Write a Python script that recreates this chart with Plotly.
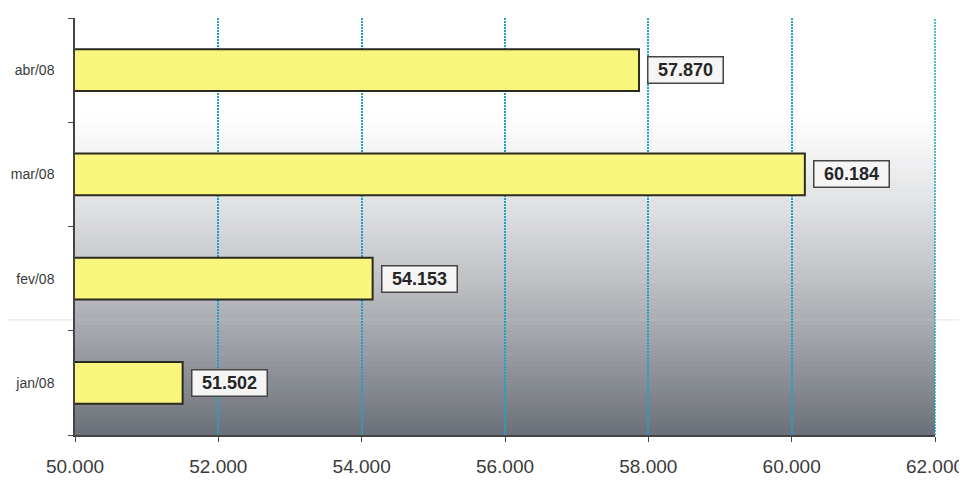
import plotly.graph_objects as go

categories = ["jan/08", "fev/08", "mar/08", "abr/08"]
values = [51502, 54153, 60184, 57870]
x_ticks = [50000, 52000, 54000, 56000, 58000, 60000, 62000]
x_tick_labels = ["50.000", "52.000", "54.000", "56.000", "58.000", "60.000", "62.000"]


def fmt(v):
    return f"{v:,}".replace(",", ".")


fig = go.Figure()
fig.add_trace(go.Bar(
    x=values, y=categories, orientation="h",
    width=0.4,
    marker=dict(color="#f8f67c", line=dict(color="#2b2b22", width=2)),
    hoverinfo="skip",
))

# gradient background (style only)
stops = [(0.0, (255, 255, 255)), (0.24, (255, 255, 255)), (0.44, (226, 227, 229)),
         (0.63, (191, 193, 197)), (0.80, (154, 157, 163)), (1.0, (108, 112, 120))]


def col_at(t):
    for (t0, c0), (t1, c1) in zip(stops[:-1], stops[1:]):
        if t0 <= t <= t1:
            f = 0 if t1 == t0 else (t - t0) / (t1 - t0)
            return "rgb(%d,%d,%d)" % tuple(round(a + (b - a) * f) for a, b in zip(c0, c1))
    return "rgb(%d,%d,%d)" % stops[-1][1]


shapes = []
n = 80
for i in range(n):
    t0 = i / n
    t1 = (i + 1) / n
    shapes.append(dict(type="rect", xref="x domain", yref="y domain",
                       x0=0, x1=1, y0=1 - t1, y1=1 - t0 + 0.002,
                       fillcolor=col_at((t0 + t1) / 2), line=dict(width=0),
                       layer="below"))

# gridline at the right edge of the plot area
shapes.append(dict(type="line", xref="x domain", yref="y domain", x0=1, x1=1, y0=0, y1=1,
                   line=dict(color="#1fa3c4", width=1.5, dash="2px,1px"), layer="below"))
# faint scan line across the picture
shapes.append(dict(type="line", xref="paper", yref="paper", x0=-0.09, x1=1.04,
                   y0=0.276, y1=0.276, line=dict(color="rgba(200,200,200,0.5)", width=1),
                   layer="below"))

annotations = []
for c, v in zip(categories, values):
    annotations.append(dict(
        x=v, y=c, xref="x", yref="y", text=fmt(v), showarrow=False,
        xanchor="left", xshift=8, width=70, height=21, align="center",
        font=dict(family="Arial, Liberation Sans", size=18, color="#262626", weight="bold"),
        bgcolor="#f5f5f5", bordercolor="#444444", borderwidth=1.5, borderpad=2,
    ))

fig.update_layout(
    width=959, height=472,
    margin=dict(l=67, r=32, t=10, b=45),
    paper_bgcolor="white", plot_bgcolor="rgba(0,0,0,0)",
    showlegend=False,
    shapes=shapes,
    annotations=annotations,
    font=dict(family="Arial, Liberation Sans", color="#333333"),
)
fig.update_xaxes(
    range=[50000, 62000], tickvals=x_ticks, ticktext=x_tick_labels,
    showgrid=True, gridcolor="#1fa3c4", griddash="2px,1px", gridwidth=1.5,
    showline=True, linecolor="#444444", linewidth=1.5,
    ticks="outside", ticklen=5, tickcolor="#444444",
    tickfont=dict(size=19, color="#3a3a3a"), ticklabelstandoff=8,
    zeroline=False, fixedrange=True, automargin=False,
)
fig.update_yaxes(
    categoryorder="array", categoryarray=categories,
    showgrid=False, showline=True, linecolor="#444444", linewidth=1.5,
    ticks="outside", ticklen=5, tickcolor="#444444", tickson="boundaries",
    tickfont=dict(size=14, color="#3a3a3a"), ticklabelstandoff=16,
    zeroline=False, fixedrange=True, automargin=False,
)

fig.write_html("out.html")
